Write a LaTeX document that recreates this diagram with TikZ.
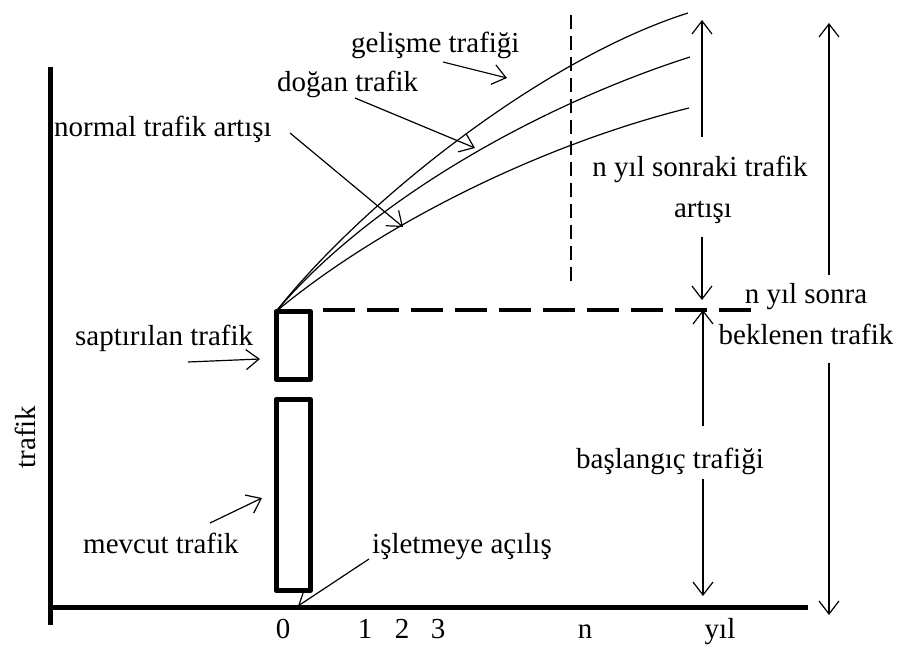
\documentclass[tikz,border=0pt]{standalone}
\usepackage{fontspec}
\setmainfont{Liberation Serif}
\usetikzlibrary{arrows.meta, positioning}
\newcommand{\etiketyazi}{\fontsize{29}{34}\selectfont}

\begin{document}
\begin{tikzpicture}[x=1pt, y=-1pt,
    ok/.style={-{Straight Barb[length=13pt, width=20pt]}, line width=1.2pt},
    kutu/.style={draw, line width=5pt, line join=round, inner sep=0pt, outer sep=0pt},
    etiket/.style={font=\etiketyazi, inner sep=0pt}]
    \useasboundingbox (0,0) rectangle (900,647);

    % Eksenler
    \coordinate (O) at (48,607);
    \coordinate (y-ust) at (50,67);
    \coordinate (y-alt) at (50,625);
    \coordinate (x-son) at (808,607);
    \draw[line width=5pt] (y-ust) -- (y-alt);
    \draw[line width=5pt] (O) -- (x-son);
    \node[etiket, rotate=90] (trafik) at (25,437) {trafik};

    % Yıllar
    \node[etiket, anchor=base] (yil0) at (283,638) {0};
    \node[etiket, anchor=base] (yil1) at (365,638) {1};
    \node[etiket, anchor=base] (yil2) at (402,638) {2};
    \node[etiket, anchor=base] (yil3) at (438,638) {3};
    \node[etiket, anchor=base] (yiln) at (585,638) {n};
    \node[etiket, anchor=base] (yil) at (720,638) {yıl};

    % Kutular
    \node[kutu, minimum width=34.5pt, minimum height=68pt] (sapt) at (293.25,345.5) {};
    \node[kutu, minimum width=34.5pt, minimum height=191pt] (mevcut) at (293.25,495) {};

    % Trafik eğrileri
    \coordinate (egri1) at (688,13);
    \coordinate (egri2) at (690,57);
    \coordinate (egri3) at (689,108);
    \draw[line width=1.2pt] (sapt.north west) .. controls (360,205) and (540,60) .. (egri1);
    \draw[line width=1.2pt] (sapt.north west) .. controls (370,200) and (540,105) .. (egri2);
    \draw[line width=1.2pt] (sapt.north west) .. controls (380,225) and (540,145) .. (egri3);

    % Kesikli çizgiler
    \coordinate (kesik-bas) at (323,310);
    \coordinate (kesik-son) at (752,310);
    \draw[line width=4pt, dash pattern=on 32pt off 12pt] (kesik-bas) -- (kesik-son);
    \coordinate (n-ust) at (571,15);
    \coordinate (n-alt) at (571,283);
    \draw[line width=1.2pt, dash pattern=on 14pt off 7pt] (n-ust) -- (n-alt);

    % Etiketler
    \node[etiket, anchor=base west] (gelisme) at (351,53) {gelişme trafiği};
    \node[etiket, anchor=base west] (dogan) at (277,92) {doğan trafik};
    \node[etiket, anchor=base west] (normal) at (54,137) {normal trafik artışı};
    \node[etiket, anchor=base west] (saptirilan) at (75,345) {saptırılan trafik};
    \node[etiket, anchor=base west] (mevcuttr) at (83,553) {mevcut trafik};
    \node[etiket, anchor=base west] (isletme) at (372,553) {işletmeye açılış};

    % Etiket okları
    \coordinate (gelisme-a) at (443,62);  \coordinate (gelisme-b) at (507,78);
    \coordinate (dogan-a) at (355,98);    \coordinate (dogan-b) at (475,148);
    \coordinate (normal-a) at (290,133);  \coordinate (normal-b) at (403,227);
    \coordinate (sapt-a) at (188,362);    \coordinate (sapt-b) at (260,359);
    \coordinate (mevcut-a) at (210,523);  \coordinate (mevcut-b) at (262,498);
    \coordinate (isletme-a) at (369,559); \coordinate (isletme-b) at (298,606);
    \draw[ok] (gelisme-a) -- (gelisme-b);
    \draw[ok] (dogan-a) -- (dogan-b);
    \draw[ok] (normal-a) -- (normal-b);
    \draw[ok] (sapt-a) -- (sapt-b);
    \draw[ok] (mevcut-a) -- (mevcut-b);
    \draw[ok] (isletme-a) -- (isletme-b);

    % Sağdaki ölçü okları
    \node[etiket, anchor=base] (artis1) at (700,177) {n yıl sonraki trafik};
    \node[etiket, anchor=base] (artis2) at (703,218) {artışı};
    \node[etiket, anchor=base] (baslangic) at (670,468) {başlangıç trafiği};
    \node[etiket, anchor=base] (sonra1) at (806,304) {n yıl sonra};
    \node[etiket, anchor=base] (sonra2) at (806,344) {beklenen trafik};

    \coordinate (artis-a) at (702,137);  \coordinate (artis-ust) at (702,20);
    \coordinate (artis-b) at (702,237);  \coordinate (artis-alt) at (702,300);
    \coordinate (basl-a) at (703,426);   \coordinate (basl-ust) at (703,310);
    \coordinate (basl-b) at (703,479);   \coordinate (basl-alt) at (703,596);
    \coordinate (sonra-a) at (829,275);  \coordinate (sonra-ust) at (829,23);
    \coordinate (sonra-b) at (829,363);  \coordinate (sonra-alt) at (829,615);
    \draw[ok] (artis-a) -- (artis-ust);
    \draw[ok] (artis-b) -- (artis-alt);
    \draw[ok] (basl-a) -- (basl-ust);
    \draw[ok] (basl-b) -- (basl-alt);
    \draw[ok] (sonra-a) -- (sonra-ust);
    \draw[ok] (sonra-b) -- (sonra-alt);
\end{tikzpicture}
\end{document}
